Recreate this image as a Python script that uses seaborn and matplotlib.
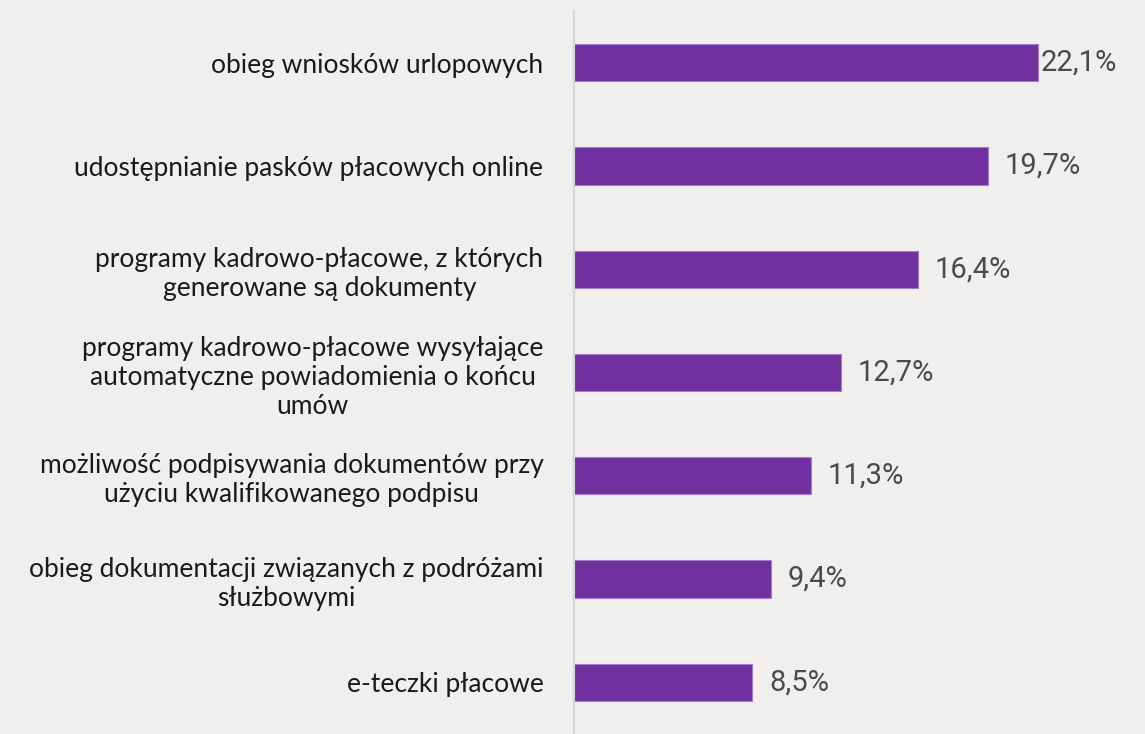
import matplotlib.pyplot as plt
import seaborn as sns
import pandas as pd

categories = [
    "obieg wniosków urlopowych",
    "udostępnianie pasków płacowych online",
    "programy kadrowo-płacowe, z których\ngenerowane są dokumenty",
    "programy kadrowo-płacowe wysyłające\nautomatyczne powiadomienia o końcu\numów",
    "możliwość podpisywania dokumentów przy\nużyciu kwalifikowanego podpisu",
    "obieg dokumentacji związanych z podróżami\nsłużbowymi",
    "e-teczki płacowe",
]
values = [22.1, 19.7, 16.4, 12.7, 11.3, 9.4, 8.5]
value_labels = ["22,1%", "19,7%", "16,4%", "12,7%", "11,3%", "9,4%", "8,5%"]

bg = "#f0efed"
purple = "#7030a0"


def main():
    df = pd.DataFrame({"category": categories, "value": values})

    sns.set_style("white")
    plt.rcParams["font.family"] = ["Lato", "DejaVu Sans"]

    fig = plt.figure(figsize=(11.45, 7.34), dpi=100, facecolor=bg)
    ax = fig.add_axes([574 / 1145, 0.0, 1 - 574 / 1145, 1 - 11 / 734])
    ax.set_facecolor(bg)

    sns.barplot(
        data=df,
        x="value",
        y="category",
        orient="h",
        color=purple,
        width=0.36,
        edgecolor="#a27ccc",
        linewidth=0.8,
        saturation=1,
        ax=ax,
    )

    xmax = 27.2
    for i, (v, lab) in enumerate(zip(values, value_labels)):
        # the longest bar leaves little room, so its label sits tight to the bar
        gap = 2 if v > 21 else 12
        ax.annotate(
            lab,
            xy=(v, i),
            xytext=(gap, 0),
            textcoords="offset points",
            va="center",
            ha="left",
            fontsize=21,
            family=["Roboto", "DejaVu Sans"],
            color="#4a4a4a",
        )

    ax.set_xlim(0, xmax)
    ax.set_ylim(6.5, -0.5)
    ax.set_xlabel("")
    ax.set_ylabel("")
    ax.set_xticks([])
    ax.tick_params(axis="y", length=0, pad=22)
    for t in ax.get_yticklabels():
        t.set_fontsize(19)
        t.set_color("#1a1a1a")
        t.set_multialignment("center")

    for s in ["top", "right", "bottom"]:
        ax.spines[s].set_visible(False)
    ax.spines["left"].set_color("#d6d6d6")
    ax.spines["left"].set_linewidth(1.5)

    fig.savefig("out.png", dpi=100, facecolor=bg)


if __name__ == "__main__":
    main()
